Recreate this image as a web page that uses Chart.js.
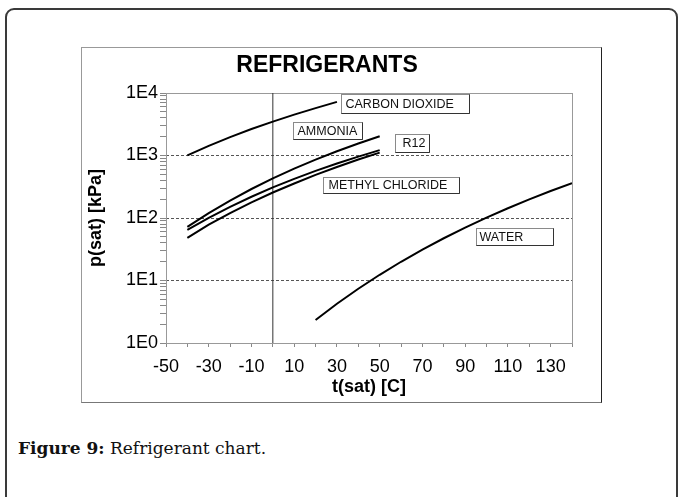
<!DOCTYPE html>
<html>
<head>
<meta charset="utf-8">
<script src="https://cdn.jsdelivr.net/npm/chart.js@4/dist/chart.umd.min.js"></script>
<style>
  html, body { margin: 0; padding: 0; background: #fff; width: 678px; height: 497px; overflow: hidden; }
  #frame { position: absolute; left: 5px; top: 8px; width: 669px; height: 600px;
           border: 2px solid #3a3a3a; border-radius: 9px 9px 0 0; box-sizing: content-box; }
  #box { position: absolute; left: 81px; top: 47px; width: 519px; height: 354px;
         border-style: solid; border-width: 1px; border-color: #999 #222 #777 #999; }
  #box canvas { display: block; }
  #caption { position: absolute; left: 18px; top: 437px; font-family: "DejaVu Serif", serif;
             font-size: 17px; line-height: 22px; color: #111; white-space: nowrap; }
</style>
</head>
<body>
<div id="frame"></div>
<div id="box"><canvas id="c" width="519" height="354"></canvas></div>
<div id="caption"><b>Figure 9:</b> Refrigerant chart.</div>
<script>
// ---- data ----
const tempCO2 = [-40, -30, -20, -10, 0, 10, 20, 30];
const pCO2 = [1005, 1428, 1969, 2649, 3485, 4502, 5729, 7214];

const tempNH3 = [-40, -30, -20, -10, 0, 10, 20, 30, 40, 50];
const pNH3 = [72, 119.5, 190, 291, 430, 615, 857, 1167, 1555, 2033];

const tempR12 = [-40, -30, -20, -10, 0, 10, 20, 30, 40, 50];
const pR12 = [64.5, 100.4, 151, 219, 309, 423, 567, 745, 961, 1219];

const tempMeCl = [-40, -30, -20, -10, 0, 10, 20, 30, 40, 50];
const pMeCl = [48, 78.5, 120, 178, 256, 356, 489, 654, 862, 1110];

const tempWater = [20, 30, 40, 50, 60, 70, 80, 90, 100, 110, 120, 130, 140];
const pWater = [2.34, 4.25, 7.38, 12.35, 19.94, 31.2, 47.4, 70.1, 101.4, 143.3, 198.5, 270.1, 361.5];

const zeroLineT = [0, 0];
const zeroLineP = [1, 10000];

const xTickLabels = [-50, -30, -10, 10, 30, 50, 70, 90, 110, 130];
const yTickLabels = ['1E0', '1E1', '1E2', '1E3', '1E4'];

const seriesNames = ['CARBON DIOXIDE', 'AMMONIA', 'R12', 'METHYL CHLORIDE', 'WATER'];

// ---- label box placement (layout, in data coordinates of box top-left) ----
const labelBoxes = [
  { name: 'CARBON DIOXIDE', t: 32, p: 9600, w: 128, h: 19, pad: 4 },
  { name: 'AMMONIA', t: 9.4, p: 3430, w: 69, h: 17, pad: 4 },
  { name: 'R12', t: 57.2, p: 2200, w: 34, h: 18, pad: 7 },
  { name: 'METHYL CHLORIDE', t: 23.5, p: 453, w: 136, h: 16, pad: 5 },
  { name: 'WATER', t: 95.1, p: 69, w: 77, h: 17, pad: 3 }
];

const FONT = '"Liberation Sans", Arial, sans-serif';

function pts(xs, ys) { return xs.map((x, i) => ({ x: x, y: ys[i] })); }

function lineSet(label, xs, ys) {
  return { label: label, data: pts(xs, ys), borderColor: '#000', borderWidth: 2,
           pointRadius: 0, tension: 0, fill: false };
}

const plotFrame = {
  id: 'plotFrame',
  beforeDatasetsDraw(chart) {
    const a = chart.chartArea, ctx = chart.ctx;
    const l = Math.round(a.left) + 0.5, r = Math.round(a.right) + 0.5;
    const t = Math.round(a.top) + 0.5, b = Math.round(a.bottom) + 0.5;
    ctx.save();
    ctx.setLineDash([]);
    ctx.strokeStyle = '#999';
    ctx.lineWidth = 1;
    ctx.strokeRect(l, t, r - l, b - t);
    ctx.restore();
  }
};

const seriesLabels = {
  id: 'seriesLabels',
  afterDatasetsDraw(chart) {
    const ctx = chart.ctx, xs = chart.scales.x, ys = chart.scales.y;
    ctx.save();
    ctx.setLineDash([]);
    ctx.font = '12.5px ' + FONT;
    ctx.textBaseline = 'middle';
    ctx.textAlign = 'left';
    labelBoxes.forEach(b => {
      const x = Math.round(xs.getPixelForValue(b.t)) + 0.5;
      const y = Math.round(ys.getPixelForValue(b.p)) + 0.5;
      ctx.fillStyle = '#fff';
      ctx.fillRect(x, y, b.w, b.h);
      ctx.strokeStyle = '#8a8a8a';
      ctx.lineWidth = 1;
      ctx.strokeRect(x, y, b.w, b.h);
      ctx.strokeStyle = '#333';
      ctx.beginPath();
      ctx.moveTo(x + b.w, y);
      ctx.lineTo(x + b.w, y + b.h);
      ctx.lineTo(x, y + b.h);
      ctx.stroke();
      ctx.fillStyle = '#111';
      ctx.fillText(b.name, x + b.pad, y + b.h / 2 + 0.5);
    });
    ctx.restore();
  }
};

function isDecade(v) {
  const l = Math.log10(v);
  return Math.abs(l - Math.round(l)) < 1e-9;
}

new Chart(document.getElementById('c'), {
  type: 'line',
  data: {
    datasets: [
      lineSet(seriesNames[0], tempCO2, pCO2),
      lineSet(seriesNames[1], tempNH3, pNH3),
      lineSet(seriesNames[2], tempR12, pR12),
      lineSet(seriesNames[3], tempMeCl, pMeCl),
      lineSet(seriesNames[4], tempWater, pWater),
      { label: 'zero', data: pts(zeroLineT, zeroLineP), borderColor: '#333', borderWidth: 1,
        pointRadius: 0, tension: 0, fill: false }
    ]
  },
  plugins: [plotFrame, seriesLabels],
  options: {
    responsive: false,
    animation: false,
    devicePixelRatio: 1,
    layout: { padding: { left: 0, right: 29, top: 0, bottom: 0 } },
    plugins: {
      legend: { display: false },
      tooltip: { enabled: false },
      title: {
        display: true, text: 'REFRIGERANTS', color: '#000',
        font: { family: FONT, size: 23, weight: 'bold' },
        padding: { top: 4, bottom: 13.4 }
      }
    },
    scales: {
      x: {
        type: 'linear', min: -50, max: 140,
        afterFit(s) { s.height = 59; },
        ticks: {
          stepSize: 10, autoSkip: false, maxRotation: 0, minRotation: 0, padding: 9,
          color: '#000', font: { family: FONT, size: 18 },
          callback: v => xTickLabels.includes(v) ? String(v) : ''
        },
        grid: { drawOnChartArea: false, tickLength: 4, color: '#888' },
        border: { display: false },
        title: {
          display: true, text: 't(sat) [C]', color: '#000',
          font: { family: FONT, size: 18, weight: 'bold' },
          padding: { top: 0, bottom: 4 }
        }
      },
      y: {
        type: 'logarithmic', min: 1, max: 10000,
        afterFit(s) { s.width = 84; },
        afterBuildTicks(s) {
          const t = [];
          for (let e = 0; e < 4; e++) {
            for (let m = 1; m < 10; m++) t.push({ value: m * Math.pow(10, e) });
          }
          t.push({ value: 10000 });
          s.ticks = t;
        },
        ticks: {
          autoSkip: false, padding: 2, color: '#000', font: { family: FONT, size: 18 },
          callback: v => isDecade(v) ? yTickLabels[Math.round(Math.log10(v))] : ''
        },
        grid: {
          tickLength: 6,
          tickColor: '#888',
          tickBorderDash: [],
          color: c => (c.tick && isDecade(c.tick.value) && c.tick.value > 1 && c.tick.value < 10000) ? '#555' : 'rgba(0,0,0,0)'
        },
        border: { display: false, dash: [3, 2] },
        title: {
          display: true, text: 'p(sat) [kPa]', color: '#000',
          font: { family: FONT, size: 18, weight: 'bold' },
          padding: { top: 3, bottom: 0 }
        }
      }
    }
  }
});
</script>
</body>
</html>
